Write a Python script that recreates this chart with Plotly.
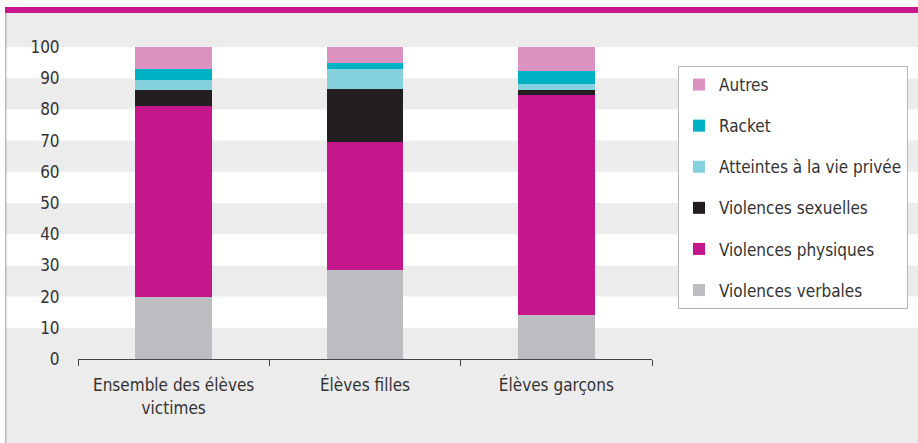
import plotly.graph_objects as go

categories = ["Ensemble des élèves<br>victimes", "Élèves filles", "Élèves garçons"]
series_names = ["Violences verbales", "Violences physiques", "Violences sexuelles",
                "Atteintes à la vie privée", "Racket", "Autres"]
violences_verbales = [20.0, 28.6, 14.2]
violences_physiques = [61.0, 41.0, 70.5]
violences_sexuelles = [5.3, 17.0, 1.6]
atteintes_vie_privee = [3.0, 6.4, 1.7]
racket = [3.6, 2.0, 4.4]
autres = [7.1, 5.0, 7.6]
y_ticks = [0, 10, 20, 30, 40, 50, 60, 70, 80, 90, 100]

values = [violences_verbales, violences_physiques, violences_sexuelles,
          atteintes_vie_privee, racket, autres]
colors = ["#bcbdc1", "#c5168b", "#231f20", "#85d2de", "#00b1c3", "#db92c0"]

W, H = 918, 443
L, R = 78, 652
T, B = 47, 359
FONT = "DejaVu Sans Condensed, Roboto, sans-serif"
FS = 17


def px_x(p):
    return (p - L) / (R - L)


def px_y(p):
    return (B - p) / (B - T)


fig = go.Figure()
n = len(series_names)
for i, (name, vals, col) in enumerate(zip(series_names, values, colors)):
    fig.add_trace(go.Bar(
        x=categories, y=vals, name=name, marker=dict(color=col, line=dict(width=0)),
        width=0.4, legendgroup=f"g{i}", legendrank=n - i,
        hovertemplate="%{x}<br>" + name + ": %{y}<extra></extra>",
    ))

shapes = []
shapes.append(dict(type="rect", xref="paper", yref="paper", x0=px_x(0), x1=px_x(W),
                   y0=px_y(7), y1=px_y(0), fillcolor="white", line=dict(width=0), layer="below"))
shapes.append(dict(type="rect", xref="paper", yref="paper", x0=px_x(0), x1=px_x(5),
                   y0=px_y(H), y1=px_y(0), fillcolor="white", line=dict(width=0), layer="below"))
shapes.append(dict(type="rect", xref="paper", yref="paper", x0=px_x(5), x1=px_x(W),
                   y0=px_y(13), y1=px_y(7), fillcolor="#c8168c", line=dict(width=0), layer="below"))
shapes.append(dict(type="line", xref="paper", yref="paper", x0=px_x(5.8), x1=px_x(5.8),
                   y0=px_y(H), y1=px_y(13), line=dict(color="#b8b8b8", width=1.5), layer="below"))
for lo in [10, 30, 50, 70, 90]:
    shapes.append(dict(type="rect", xref="paper", yref="paper", x0=px_x(6.6), x1=px_x(W),
                       y0=lo / 100, y1=(lo + 10) / 100, fillcolor="white",
                       line=dict(width=0), layer="below"))

fig.update_layout(
    width=W, height=H,
    margin=dict(l=L, r=W - R, t=T, b=H - B, pad=0, autoexpand=False),
    paper_bgcolor="#ececec", plot_bgcolor="rgba(0,0,0,0)",
    barmode="stack",
    font=dict(family=FONT, size=FS, color="#333333"),
    shapes=shapes,
    showlegend=True,
    legend=dict(
        x=px_x(678), y=px_y(66), xanchor="left", yanchor="top",
        bgcolor="white", bordercolor="#b5b5b5", borderwidth=1,
        traceorder="grouped", tracegroupgap=16,
        font=dict(family=FONT, size=FS, color="#333333"),
    ),
    xaxis=dict(
        type="category", range=[-0.5, 2.5], showline=True, linecolor="#444444", linewidth=1,
        ticks="outside", tickson="boundaries", ticklen=6, tickcolor="#444444",
        ticklabelstandoff=11,
        showgrid=False, zeroline=False, fixedrange=True, tickangle=0, automargin=False,
    ),
    yaxis=dict(
        range=[0, 100], tickvals=y_ticks, showgrid=False, zeroline=False, showline=False,
        ticks="outside", ticklen=14, tickcolor="rgba(0,0,0,0)", fixedrange=True,
        automargin=False,
    ),
)

fig.write_html("out.html", config={"displayModeBar": False},
               post_script="document.body.style.margin='0';")
